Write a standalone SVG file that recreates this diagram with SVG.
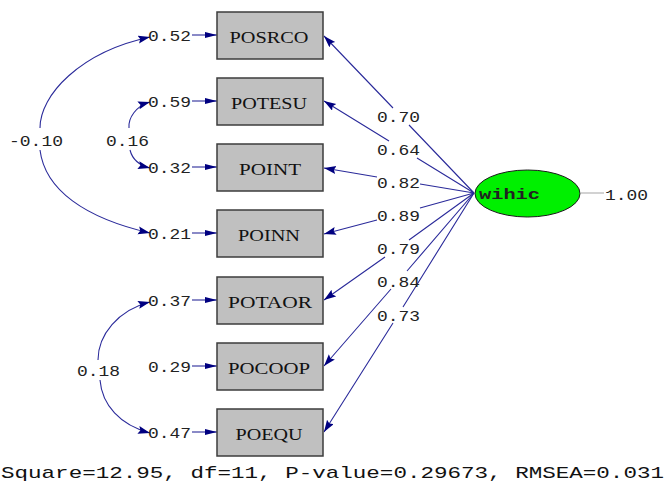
<svg xmlns="http://www.w3.org/2000/svg" width="670" height="493" viewBox="0 0 670 493">
  <style>
    .box { fill: #c0c0c0; stroke: #3c3c3c; stroke-width: 1.5; }
    .boxlbl { font-family: "Liberation Serif", "Times New Roman", serif; font-size: 17.5px; fill: #111; text-anchor: middle; }
    .num { font-family: "Liberation Mono", "Courier New", monospace; font-size: 14px; fill: #222; }
    .path { fill: none; stroke: #2a2a9a; stroke-width: 1.1; }
    .foot { font-family: "Liberation Mono", "Courier New", monospace; font-size: 17px; fill: #111; }
  </style>
  <defs>
    <marker id="arrow" markerUnits="userSpaceOnUse" markerWidth="14" markerHeight="10" refX="12" refY="4" orient="auto">
      <path d="M0,0 L12,4 L0,8 L2,4 z" fill="#000080"/>
    </marker>
    <marker id="errArrow" markerUnits="userSpaceOnUse" markerWidth="14" markerHeight="8" refX="12" refY="3" orient="auto">
      <path d="M0,0 L12,3 L0,6 z" fill="#000080"/>
    </marker>
  </defs>
  <rect width="670" height="493" fill="#ffffff"/>

  <!-- connectors: factor loadings, error terms, covariances -->
  <g id="connectors">
    <!-- loadings from wihic (split around their value labels) -->
    <path class="path" d="M474,193 L409,125 M393,108 L324,36" marker-end="url(#arrow)"/>
    <path class="path" d="M474,193 L417,158 M389,141 L324,101" marker-end="url(#arrow)"/>
    <path class="path" d="M474,193 L420,184 M377,177 L324,168" marker-end="url(#arrow)"/>
    <path class="path" d="M474,193 L420,208 M377,220 L324,234" marker-end="url(#arrow)"/>
    <path class="path" d="M474,193 L409,240 M385,257 L324,300" marker-end="url(#arrow)"/>
    <path class="path" d="M474,193 L407,271 M391,289 L324,366" marker-end="url(#arrow)"/>
    <path class="path" d="M474,193 L403,307 M393,323 L324,432" marker-end="url(#arrow)"/>

    <!-- variance of wihic -->
    <line x1="581" y1="193" x2="604" y2="193" stroke="#b4b4b4" stroke-width="1.2"/>

    <!-- error arrows -->
    <line class="path" x1="192" y1="35" x2="217" y2="35" marker-end="url(#errArrow)"/>
    <line class="path" x1="192" y1="101" x2="217" y2="101" marker-end="url(#errArrow)"/>
    <line class="path" x1="192" y1="167" x2="217" y2="167" marker-end="url(#errArrow)"/>
    <line class="path" x1="192" y1="233" x2="217" y2="233" marker-end="url(#errArrow)"/>
    <line class="path" x1="192" y1="300" x2="217" y2="300" marker-end="url(#errArrow)"/>
    <line class="path" x1="192" y1="366" x2="217" y2="366" marker-end="url(#errArrow)"/>
    <line class="path" x1="192" y1="432" x2="217" y2="432" marker-end="url(#errArrow)"/>

    <!-- error covariances -->
    <path class="path" d="M40,128 C40,95 80,52 150,37" marker-end="url(#arrow)"/>
    <path class="path" d="M40,150 C45,190 85,218 150,233" marker-end="url(#arrow)"/>
    <path class="path" d="M129,128 C128,118 136,106 150,102" marker-end="url(#arrow)"/>
    <path class="path" d="M130,150 C132,158 138,165 150,168" marker-end="url(#arrow)"/>
    <path class="path" d="M98,360 C98,335 118,310 150,302" marker-end="url(#arrow)"/>
    <path class="path" d="M100,380 C102,405 120,425 150,433" marker-end="url(#arrow)"/>
  </g>

  <!-- observed indicators -->
  <g id="POSRCO">
    <rect class="box" x="217" y="12" width="106" height="47"/>
    <text class="boxlbl" x="269" y="43" textLength="79" lengthAdjust="spacingAndGlyphs">POSRCO</text>
    <text class="num" x="148" y="41" textLength="43" lengthAdjust="spacingAndGlyphs">0.52</text>
  </g>
  <g id="POTESU">
    <rect class="box" x="217" y="78" width="106" height="47"/>
    <text class="boxlbl" x="269" y="109" textLength="76" lengthAdjust="spacingAndGlyphs">POTESU</text>
    <text class="num" x="148" y="107" textLength="43" lengthAdjust="spacingAndGlyphs">0.59</text>
  </g>
  <g id="POINT">
    <rect class="box" x="217" y="144" width="106" height="47"/>
    <text class="boxlbl" x="270" y="175" textLength="62" lengthAdjust="spacingAndGlyphs">POINT</text>
    <text class="num" x="148" y="173" textLength="43" lengthAdjust="spacingAndGlyphs">0.32</text>
  </g>
  <g id="POINN">
    <rect class="box" x="217" y="210" width="106" height="47"/>
    <text class="boxlbl" x="269" y="241" textLength="62" lengthAdjust="spacingAndGlyphs">POINN</text>
    <text class="num" x="148" y="239" textLength="43" lengthAdjust="spacingAndGlyphs">0.21</text>
  </g>
  <g id="POTAOR">
    <rect class="box" x="217" y="277" width="106" height="47"/>
    <text class="boxlbl" x="270" y="308" textLength="84" lengthAdjust="spacingAndGlyphs">POTAOR</text>
    <text class="num" x="148" y="306" textLength="43" lengthAdjust="spacingAndGlyphs">0.37</text>
  </g>
  <g id="POCOOP">
    <rect class="box" x="217" y="343" width="106" height="47"/>
    <text class="boxlbl" x="269" y="374" textLength="82" lengthAdjust="spacingAndGlyphs">POCOOP</text>
    <text class="num" x="148" y="372" textLength="43" lengthAdjust="spacingAndGlyphs">0.29</text>
  </g>
  <g id="POEQU">
    <rect class="box" x="217" y="409" width="106" height="47"/>
    <text class="boxlbl" x="269" y="440" textLength="67" lengthAdjust="spacingAndGlyphs">POEQU</text>
    <text class="num" x="148" y="438" textLength="43" lengthAdjust="spacingAndGlyphs">0.47</text>
  </g>

  <!-- latent factor -->
  <g id="wihic">
    <ellipse cx="527.5" cy="193.5" rx="52.5" ry="23.5" fill="#00f000" stroke="#1a1a1a" stroke-width="1"/>
    <text class="num" x="479" y="199" font-size="15" font-weight="bold" textLength="61" lengthAdjust="spacingAndGlyphs" fill="#111">wihic</text>
    <text class="num" x="605" y="200" textLength="43" lengthAdjust="spacingAndGlyphs">1.00</text>
  </g>

  <!-- loading values -->
  <g id="loadings">
    <text class="num" x="377" y="122" textLength="43" lengthAdjust="spacingAndGlyphs">0.70</text>
    <text class="num" x="377" y="155" textLength="43" lengthAdjust="spacingAndGlyphs">0.64</text>
    <text class="num" x="377" y="188" textLength="43" lengthAdjust="spacingAndGlyphs">0.82</text>
    <text class="num" x="377" y="221" textLength="43" lengthAdjust="spacingAndGlyphs">0.89</text>
    <text class="num" x="377" y="254" textLength="43" lengthAdjust="spacingAndGlyphs">0.79</text>
    <text class="num" x="377" y="287" textLength="43" lengthAdjust="spacingAndGlyphs">0.84</text>
    <text class="num" x="377" y="321" textLength="43" lengthAdjust="spacingAndGlyphs">0.73</text>
  </g>

  <!-- covariance values -->
  <g id="covariances">
    <text class="num" x="9" y="146" textLength="54" lengthAdjust="spacingAndGlyphs">-0.10</text>
    <text class="num" x="106" y="146" textLength="43" lengthAdjust="spacingAndGlyphs">0.16</text>
    <text class="num" x="77" y="376" textLength="43" lengthAdjust="spacingAndGlyphs">0.18</text>
  </g>

  <!-- fit statistics -->
  <text class="foot" x="1" y="478" textLength="663" lengthAdjust="spacingAndGlyphs">Square=12.95, df=11, P-value=0.29673, RMSEA=0.031</text>
</svg>
